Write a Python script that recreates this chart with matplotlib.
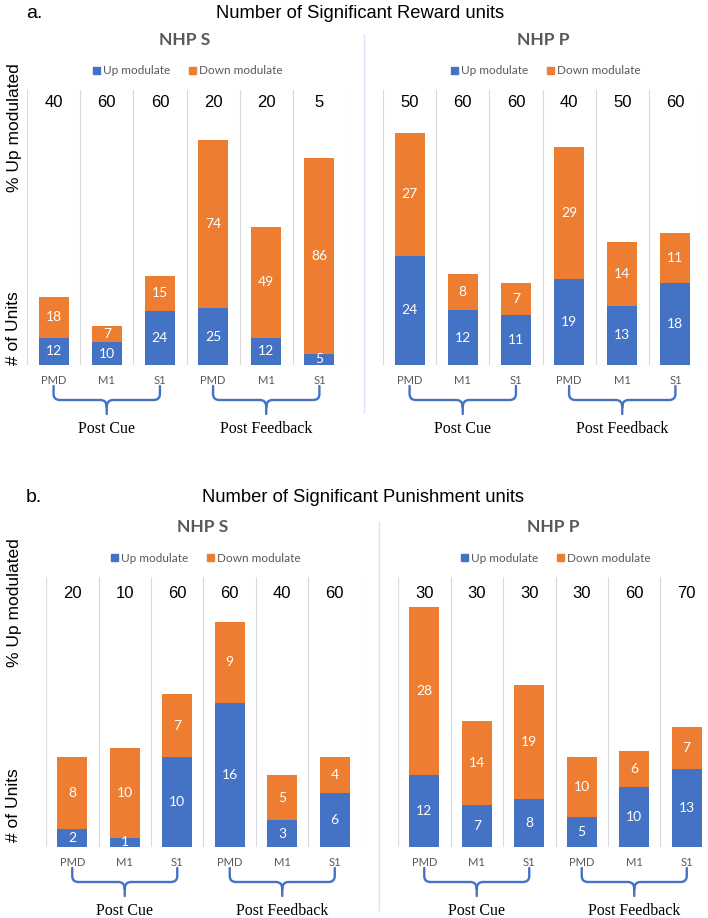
import matplotlib
matplotlib.use("Agg")
import matplotlib.pyplot as plt
from matplotlib.patches import Patch, PathPatch
from matplotlib.path import Path
from matplotlib.transforms import blended_transform_factory

# ---- data ----
regions = ['PMD', 'M1', 'S1', 'PMD', 'M1', 'S1']
epochs = ['Post Cue', 'Post Feedback']

# reward units
rew_s_up = [12, 10, 24, 25, 12, 5]
rew_s_down = [18, 7, 15, 74, 49, 86]
rew_s_pct = [40, 60, 60, 20, 20, 5]
rew_p_up = [24, 12, 11, 19, 13, 18]
rew_p_down = [27, 8, 7, 29, 14, 11]
rew_p_pct = [50, 60, 60, 40, 50, 60]

# punishment units
pun_s_up = [2, 1, 10, 16, 3, 6]
pun_s_down = [8, 10, 7, 9, 5, 4]
pun_s_pct = [20, 10, 60, 60, 40, 60]
pun_p_up = [12, 7, 8, 5, 10, 13]
pun_p_down = [28, 14, 19, 10, 6, 7]
pun_p_pct = [30, 30, 30, 30, 60, 70]

BLUE = '#4472C4'
ORANGE = '#ED7D31'
GRAY = '#595959'
GRID = '#d9d9d9'

W, H = 708, 918
fig = plt.figure(figsize=(W / 100, H / 100), dpi=100)


def fx(x):
    return x / W


def fy(y):
    return 1 - y / H


def add_ax(l, r, t, b):
    return fig.add_axes([fx(l), fy(b), (r - l) / W, (b - t) / H])


def brace(ax, x0, x1, hpx, color=BLUE):
    # curly brace under the axis, y given in pixels below the baseline
    tr = blended_transform_factory(ax.transData, ax.transAxes)
    yy = lambda p: -p / hpx
    xm = (x0 + x1) / 2
    dx = 0.12
    verts = [(x0, yy(21)), (x0, yy(29)), (x0, yy(35)), (x0 + dx, yy(35)),
             (xm - dx, yy(35)), (xm, yy(35)), (xm, yy(42)), (xm, yy(49)),
             (x1, yy(21)), (x1, yy(29)), (x1, yy(35)), (x1 - dx, yy(35)),
             (xm + dx, yy(35)), (xm, yy(35)), (xm, yy(42))]
    codes = [Path.MOVETO, Path.LINETO, Path.CURVE3, Path.CURVE3,
             Path.LINETO, Path.CURVE3, Path.CURVE3, Path.LINETO,
             Path.MOVETO, Path.LINETO, Path.CURVE3, Path.CURVE3,
             Path.LINETO, Path.CURVE3, Path.CURVE3]
    p = PathPatch(Path(verts, codes), transform=tr, fill=False,
                  edgecolor=color, lw=1.7, clip_on=False, capstyle='round')
    ax.add_patch(p)


def panel(ax, up, down, pct, ymax, hpx, pct_y):
    x = range(len(up))
    ax.bar(x, up, width=0.565, color=BLUE, zorder=3)
    ax.bar(x, down, width=0.565, bottom=up, color=ORANGE, zorder=3)
    for i in x:
        ax.text(i, up[i] / 2, str(up[i]), ha='center', va='center',
                color='white', fontsize=10, family='Lato', zorder=4)
        ax.text(i, up[i] + down[i] / 2, str(down[i]), ha='center',
                va='center', color='white', fontsize=10, family='Lato', zorder=4)
        ax.text(i, pct_y, str(pct[i]), transform=blended_transform_factory(
            ax.transData, ax.transAxes), ha='center', va='center',
            fontsize=12, family='Liberation Sans', color='black')
    for s in [k - 0.5 for k in range(len(up) + 1)]:
        ax.axvline(s, color=GRID, lw=0.8, zorder=1)
    ax.axhline(0, color=GRID, lw=0.8, zorder=2)
    ax.set_xlim(-0.5, len(up) - 0.5)
    ax.set_ylim(0, ymax)
    ax.set_xticks(list(x))
    ax.set_xticklabels(regions, fontsize=8, color=GRAY, family='Lato')
    ax.tick_params(length=0, pad=7)
    ax.set_yticks([])
    for sp in ax.spines.values():
        sp.set_visible(False)
    ax.patch.set_alpha(0)
    brace(ax, 0, 2, hpx)
    brace(ax, 3, 5, hpx)
    tr = blended_transform_factory(ax.transData, ax.transAxes)
    ax.text(1, -64 / hpx, epochs[0], transform=tr, ha='center', va='center',
            fontsize=11.5, family='Liberation Serif')
    ax.text(4, -64 / hpx, epochs[1], transform=tr, ha='center', va='center',
            fontsize=11.5, family='Liberation Serif')


def header(label, cx, cy):
    fig.text(fx(cx), fy(cy), label, ha='center', va='center', fontsize=12.5,
             fontweight='bold', color=GRAY, family='Lato')
    handles = [Patch(color=BLUE, label='Up modulate'),
               Patch(color=ORANGE, label='Down modulate')]
    fig.legend(handles=handles, loc='center', ncol=2, frameon=False,
               bbox_to_anchor=(fx(cx + 3), fy(cy + 31)),
               prop={'family': 'Lato', 'size': 8.5}, labelcolor=GRAY,
               handlelength=0.55, handleheight=0.55, handletextpad=0.3,
               columnspacing=1.6)


def ylabels(y1, y2):
    fig.text(fx(14), fy(y1), '% Up modulated', rotation=90, ha='center',
             va='center', fontsize=12.5, family='Liberation Sans')
    fig.text(fx(14), fy(y2), '# of Units', rotation=90, ha='center',
             va='center', fontsize=12.5, family='Liberation Sans')


# ---- panel a: reward ----
fig.text(fx(26), fy(13), 'a.', ha='left', va='center', fontsize=14,
         family='Liberation Sans')
fig.text(fx(360), fy(13), 'Number of Significant Reward units', ha='center',
         va='center', fontsize=13.2, family='Liberation Sans')
ax1 = add_ax(27, 346, 90, 365)
panel(ax1, rew_s_up, rew_s_down, rew_s_pct, 275 / 2.27, 275, 0.955)
ax2 = add_ax(383, 702, 90, 365)
panel(ax2, rew_p_up, rew_p_down, rew_p_pct, 275 / 4.55, 275, 0.955)
header('NHP S', 185, 40)
header('NHP P', 543, 40)
ylabels(128, 328)
fig.add_artist(plt.Line2D([fx(364), fx(364)], [fy(35), fy(412)],
                          color='#dae3f3', lw=1))

# ---- panel b: punishment ----
fig.text(fx(26), fy(497), 'b.', ha='left', va='center', fontsize=14,
         family='Liberation Sans')
fig.text(fx(363), fy(497), 'Number of Significant Punishment units',
         ha='center', va='center', fontsize=13.2, family='Liberation Sans')
ax3 = add_ax(46, 361, 577, 847)
panel(ax3, pun_s_up, pun_s_down, pun_s_pct, 270 / 9.0, 270, 0.94)
ax4 = add_ax(398, 713, 577, 847)
panel(ax4, pun_p_up, pun_p_down, pun_p_pct, 270 / 6.0, 270, 0.94)
header('NHP S', 203, 527)
header('NHP P', 553, 527)
ylabels(603, 805)
fig.add_artist(plt.Line2D([fx(379), fx(379)], [fy(522), fy(910)],
                          color='#dae3f3', lw=1))

fig.savefig('out.png', dpi=100, facecolor='white')
